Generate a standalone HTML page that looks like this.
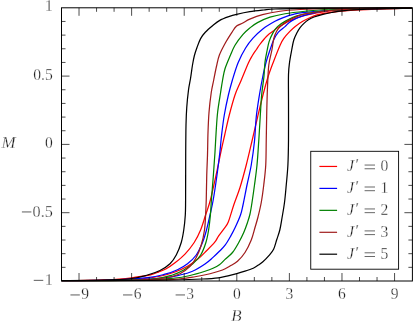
<!DOCTYPE html>
<html><head><meta charset="utf-8"><title>M vs B</title>
<style>
html,body{margin:0;padding:0;background:#fff;}
body{width:416px;height:323px;overflow:hidden;font-family:"Liberation Serif",serif;}
svg{display:block;}
.t{font-family:"Liberation Serif",serif;font-size:16px;fill:#1c1c1c;stroke:#fff;stroke-width:0.28px;paint-order:fill stroke;}
.i{font-style:italic;}
</style></head><body>
<svg width="416" height="323" viewBox="0 0 416 323">
<rect x="0" y="0" width="416" height="323" fill="#ffffff"/>
<defs><clipPath id="c"><rect x="61.50" y="7.30" width="350.90" height="274.20"/></clipPath></defs>
<g clip-path="url(#c)" fill="none" stroke-width="1.25" stroke-linejoin="round" stroke-linecap="butt">
<path d="M412.00 7.90 C403.33 8.08 373.88 8.44 360.00 9.00 C346.12 9.56 337.92 10.17 328.75 11.25 C319.58 12.33 311.46 13.94 305.00 15.50 C298.54 17.06 294.58 18.55 290.00 20.60 C285.42 22.65 280.21 26.10 277.50 27.80 C274.79 29.50 275.33 29.60 273.75 30.80 C272.17 32.00 269.56 33.67 268.00 35.00 C266.44 36.33 265.83 37.08 264.40 38.75 C262.97 40.42 260.73 43.21 259.40 45.00 C258.07 46.79 257.57 47.75 256.40 49.50 C255.23 51.25 253.72 53.28 252.40 55.50 C251.08 57.72 250.40 58.59 248.50 62.80 C246.60 67.01 243.25 75.38 241.00 80.75 C238.75 86.12 236.95 89.29 235.00 95.00 C233.05 100.71 231.02 108.33 229.30 115.00 C227.58 121.67 226.03 129.17 224.70 135.00 C223.37 140.83 222.73 143.33 221.30 150.00 C219.87 156.67 217.92 166.67 216.10 175.00 C214.28 183.33 212.15 193.33 210.40 200.00 C208.65 206.67 207.23 210.00 205.60 215.00 C203.97 220.00 202.50 225.42 200.60 230.00 C198.70 234.58 196.80 238.48 194.20 242.50 C191.60 246.52 188.20 250.72 185.00 254.10 C181.80 257.48 178.12 260.37 175.00 262.80 C171.88 265.23 169.02 267.15 166.25 268.70 C163.48 270.25 161.01 271.07 158.40 272.10 C155.79 273.13 153.20 274.22 150.60 274.90 C148.00 275.58 145.94 275.72 142.80 276.20 C139.66 276.68 135.68 277.33 131.75 277.80 C127.83 278.27 123.94 278.65 119.25 279.00 C114.56 279.35 108.47 279.67 103.60 279.90 C98.72 280.13 97.02 280.27 90.00 280.40 C82.98 280.53 66.25 280.65 61.50 280.70" stroke="#ff0000"/>
<path d="M61.50 280.70 C69.58 280.62 96.50 280.52 110.00 280.20 C123.50 279.88 134.17 279.41 142.50 278.75 C150.83 278.09 154.58 277.38 160.00 276.25 C165.42 275.12 170.42 273.67 175.00 272.00 C179.58 270.33 183.75 268.37 187.50 266.25 C191.25 264.13 194.37 261.84 197.50 259.30 C200.63 256.76 203.43 253.85 206.30 251.00 C209.18 248.15 212.72 244.68 214.75 242.20 C216.78 239.72 216.94 238.37 218.50 236.10 C220.06 233.83 222.47 230.95 224.10 228.60 C225.73 226.25 226.69 225.93 228.30 222.00 C229.91 218.07 231.80 210.75 233.75 205.00 C235.70 199.25 237.92 194.17 240.00 187.50 C242.08 180.83 244.25 172.75 246.25 165.00 C248.25 157.25 250.11 149.00 252.00 141.00 C253.89 133.00 255.75 124.75 257.60 117.00 C259.45 109.25 261.37 101.17 263.10 94.50 C264.83 87.83 266.32 82.33 268.00 77.00 C269.68 71.67 271.17 67.83 273.20 62.50 C275.23 57.17 278.40 49.07 280.20 45.00 C282.00 40.93 282.43 40.33 284.00 38.10 C285.57 35.87 287.73 33.55 289.60 31.60 C291.48 29.65 293.06 28.12 295.25 26.40 C297.44 24.67 300.25 22.73 302.75 21.25 C305.25 19.77 307.75 18.59 310.25 17.50 C312.75 16.41 315.64 15.35 317.75 14.70 C319.86 14.05 320.61 14.00 322.90 13.60 C325.19 13.20 328.33 12.70 331.50 12.30 C334.67 11.90 337.32 11.58 341.90 11.20 C346.48 10.82 353.15 10.33 359.00 10.00 C364.85 9.67 371.00 9.43 377.00 9.20 C383.00 8.97 389.17 8.80 395.00 8.60 C400.83 8.40 409.17 8.10 412.00 8.00" stroke="#ff0000"/>
<path d="M412.00 7.90 C403.33 8.04 373.88 8.32 360.00 8.75 C346.12 9.18 338.29 9.86 328.75 10.50 C319.21 11.14 308.64 11.95 302.75 12.60 C296.86 13.25 296.52 13.62 293.40 14.40 C290.27 15.18 287.07 16.15 284.00 17.30 C280.93 18.45 278.58 19.32 275.00 21.30 C271.42 23.28 266.17 26.38 262.50 29.20 C258.83 32.02 255.82 35.07 253.00 38.20 C250.18 41.33 248.07 43.95 245.60 48.00 C243.13 52.05 240.40 57.17 238.20 62.50 C236.00 67.83 234.03 74.58 232.40 80.00 C230.77 85.42 229.75 89.17 228.40 95.00 C227.05 100.83 225.43 108.33 224.30 115.00 C223.17 121.67 222.33 128.83 221.60 135.00 C220.87 141.17 220.67 145.33 219.90 152.00 C219.13 158.67 218.12 167.00 217.00 175.00 C215.88 183.00 214.37 193.33 213.20 200.00 C212.03 206.67 211.12 210.00 210.00 215.00 C208.88 220.00 207.75 225.42 206.50 230.00 C205.25 234.58 204.21 238.33 202.50 242.50 C200.79 246.67 198.75 251.46 196.25 255.00 C193.75 258.54 190.62 261.30 187.50 263.75 C184.38 266.20 181.25 267.96 177.50 269.70 C173.75 271.44 170.00 272.87 165.00 274.20 C160.00 275.53 156.67 276.70 147.50 277.70 C138.33 278.70 124.33 279.70 110.00 280.20 C95.67 280.70 69.58 280.62 61.50 280.70" stroke="#0000ff"/>
<path d="M61.50 280.70 C72.92 280.58 113.17 280.45 130.00 280.00 C146.83 279.55 154.17 278.83 162.50 278.00 C170.83 277.17 175.00 276.12 180.00 275.00 C185.00 273.88 188.33 273.08 192.50 271.25 C196.67 269.42 201.58 266.31 205.00 264.00 C208.42 261.69 210.60 259.52 213.00 257.40 C215.40 255.28 217.38 253.33 219.40 251.30 C221.42 249.27 223.22 247.73 225.10 245.20 C226.98 242.67 229.07 238.95 230.70 236.10 C232.33 233.25 233.27 231.62 234.90 228.10 C236.53 224.58 239.15 218.85 240.50 215.00 C241.85 211.15 241.92 210.00 243.00 205.00 C244.08 200.00 245.62 191.67 247.00 185.00 C248.38 178.33 250.00 172.33 251.25 165.00 C252.50 157.67 253.67 149.00 254.50 141.00 C255.33 133.00 255.42 124.75 256.25 117.00 C257.08 109.25 258.46 101.00 259.50 94.50 C260.54 88.00 261.42 83.33 262.50 78.00 C263.58 72.67 264.75 67.17 266.00 62.50 C267.25 57.83 268.71 53.80 270.00 50.00 C271.29 46.20 272.35 42.67 273.75 39.70 C275.15 36.73 276.52 34.38 278.40 32.20 C280.27 30.02 283.13 28.27 285.00 26.60 C286.87 24.93 287.73 23.57 289.60 22.20 C291.47 20.83 294.01 19.47 296.20 18.40 C298.39 17.33 300.10 16.65 302.75 15.80 C305.40 14.95 308.74 14.07 312.10 13.30 C315.46 12.53 318.25 11.83 322.90 11.20 C327.55 10.57 333.82 9.92 340.00 9.50 C346.18 9.08 348.00 8.95 360.00 8.70 C372.00 8.45 403.33 8.12 412.00 8.00" stroke="#0000ff"/>
<path d="M412.00 7.90 C403.33 8.00 373.88 8.28 360.00 8.50 C346.12 8.72 337.92 8.79 328.75 9.25 C319.58 9.71 312.29 10.50 305.00 11.25 C297.71 12.00 290.83 12.76 285.00 13.75 C279.17 14.74 274.58 15.72 270.00 17.20 C265.42 18.68 260.87 20.80 257.50 22.60 C254.13 24.40 252.25 26.00 249.80 28.00 C247.35 30.00 245.27 31.73 242.80 34.60 C240.33 37.47 237.08 41.72 235.00 45.20 C232.92 48.68 231.97 51.58 230.30 55.50 C228.63 59.42 226.28 64.67 225.00 68.75 C223.72 72.83 223.33 76.04 222.60 80.00 C221.87 83.96 221.43 87.08 220.60 92.50 C219.77 97.92 218.35 105.83 217.60 112.50 C216.85 119.17 216.53 125.92 216.10 132.50 C215.67 139.08 215.45 144.92 215.00 152.00 C214.55 159.08 214.00 167.00 213.40 175.00 C212.80 183.00 211.90 193.33 211.40 200.00 C210.90 206.67 210.87 210.00 210.40 215.00 C209.93 220.00 209.35 225.42 208.60 230.00 C207.85 234.58 207.22 238.33 205.90 242.50 C204.58 246.67 202.88 251.46 200.70 255.00 C198.52 258.54 195.62 261.25 192.80 263.75 C189.98 266.25 187.13 268.12 183.75 270.00 C180.37 271.88 177.29 273.54 172.50 275.00 C167.71 276.46 163.75 277.87 155.00 278.75 C146.25 279.63 135.58 279.98 120.00 280.30 C104.42 280.62 71.25 280.63 61.50 280.70" stroke="#008000"/>
<path d="M61.50 280.70 C74.58 280.62 121.08 280.65 140.00 280.20 C158.92 279.75 166.67 278.78 175.00 278.00 C183.33 277.22 185.00 276.62 190.00 275.50 C195.00 274.38 201.17 272.45 205.00 271.25 C208.83 270.05 210.60 269.38 213.00 268.30 C215.40 267.23 217.43 266.25 219.40 264.80 C221.37 263.35 222.62 261.65 224.80 259.60 C226.98 257.55 230.18 255.35 232.50 252.50 C234.82 249.65 236.88 245.83 238.75 242.50 C240.62 239.17 242.29 235.83 243.75 232.50 C245.21 229.17 246.46 225.58 247.50 222.50 C248.54 219.42 249.25 217.33 250.00 214.00 C250.75 210.67 251.25 207.33 252.00 202.50 C252.75 197.67 253.67 191.25 254.50 185.00 C255.33 178.75 256.29 172.33 257.00 165.00 C257.71 157.67 258.22 149.00 258.75 141.00 C259.28 133.00 259.71 124.75 260.20 117.00 C260.69 109.25 261.08 101.17 261.70 94.50 C262.32 87.83 263.35 82.42 263.90 77.00 C264.45 71.58 264.45 66.50 265.00 62.00 C265.55 57.50 266.52 53.40 267.20 50.00 C267.88 46.60 268.17 44.42 269.10 41.60 C270.03 38.78 271.40 35.60 272.80 33.10 C274.20 30.60 275.32 28.63 277.50 26.60 C279.68 24.57 282.57 22.72 285.90 20.90 C289.23 19.08 293.07 17.10 297.50 15.70 C301.93 14.30 307.29 13.37 312.50 12.50 C317.71 11.63 320.83 11.12 328.75 10.50 C336.67 9.88 346.12 9.22 360.00 8.80 C373.88 8.38 403.33 8.13 412.00 8.00" stroke="#008000"/>
<path d="M412.00 7.90 C403.33 7.92 373.88 7.93 360.00 8.00 C346.12 8.07 338.75 8.05 328.75 8.30 C318.75 8.55 308.12 9.01 300.00 9.50 C291.88 9.99 286.25 10.38 280.00 11.25 C273.75 12.12 267.53 13.38 262.50 14.70 C257.47 16.02 253.08 17.82 249.80 19.20 C246.52 20.58 245.00 21.85 242.80 23.00 C240.60 24.15 238.42 24.55 236.60 26.10 C234.78 27.65 233.73 29.57 231.90 32.30 C230.07 35.03 227.68 38.72 225.60 42.50 C223.52 46.28 220.92 51.04 219.40 55.00 C217.88 58.96 217.45 62.08 216.50 66.25 C215.55 70.42 214.57 75.62 213.70 80.00 C212.82 84.38 212.03 87.08 211.25 92.50 C210.47 97.92 209.54 105.83 209.00 112.50 C208.46 119.17 208.25 125.42 208.00 132.50 C207.75 139.58 207.71 147.92 207.50 155.00 C207.29 162.08 206.96 167.50 206.75 175.00 C206.54 182.50 206.44 193.33 206.25 200.00 C206.06 206.67 205.89 210.00 205.60 215.00 C205.31 220.00 205.22 225.00 204.50 230.00 C203.78 235.00 202.62 240.42 201.25 245.00 C199.88 249.58 198.12 253.96 196.25 257.50 C194.38 261.04 192.71 263.54 190.00 266.25 C187.29 268.96 183.75 271.88 180.00 273.75 C176.25 275.62 172.50 276.54 167.50 277.50 C162.50 278.46 157.92 279.02 150.00 279.50 C142.08 279.98 134.75 280.20 120.00 280.40 C105.25 280.60 71.25 280.65 61.50 280.70" stroke="#a01c1c"/>
<path d="M61.50 280.70 C76.25 280.63 130.25 280.62 150.00 280.30 C169.75 279.98 172.50 279.34 180.00 278.75 C187.50 278.16 190.00 277.58 195.00 276.75 C200.00 275.92 205.42 274.88 210.00 273.75 C214.58 272.62 219.17 271.29 222.50 270.00 C225.83 268.71 227.50 267.46 230.00 266.00 C232.50 264.54 235.00 263.50 237.50 261.25 C240.00 259.00 242.71 256.04 245.00 252.50 C247.29 248.96 249.58 244.17 251.25 240.00 C252.92 235.83 253.88 231.33 255.00 227.50 C256.12 223.67 256.96 221.17 258.00 217.00 C259.04 212.83 260.29 207.83 261.25 202.50 C262.21 197.17 263.00 191.25 263.75 185.00 C264.50 178.75 265.33 172.50 265.75 165.00 C266.17 157.50 266.08 148.83 266.25 140.00 C266.42 131.17 266.54 120.83 266.75 112.00 C266.96 103.17 267.16 94.83 267.50 87.00 C267.84 79.17 268.07 71.17 268.80 65.00 C269.53 58.83 271.07 54.38 271.90 50.00 C272.72 45.62 272.97 41.88 273.75 38.75 C274.53 35.62 275.51 33.27 276.60 31.25 C277.69 29.23 278.43 28.33 280.30 26.60 C282.17 24.88 285.18 22.53 287.80 20.90 C290.42 19.27 293.13 17.97 296.00 16.80 C298.87 15.63 299.54 14.95 305.00 13.90 C310.46 12.85 319.58 11.35 328.75 10.50 C337.92 9.65 346.12 9.22 360.00 8.80 C373.88 8.38 403.33 8.13 412.00 8.00" stroke="#a01c1c"/>
<path d="M412.00 7.90 C403.33 7.92 373.88 7.97 360.00 8.00 C346.12 8.03 338.75 8.05 328.75 8.10 C318.75 8.15 308.96 8.15 300.00 8.30 C291.04 8.45 281.04 8.72 275.00 9.00 C268.96 9.28 267.95 9.55 263.75 10.00 C259.55 10.45 254.33 10.97 249.80 11.70 C245.28 12.43 240.11 13.57 236.60 14.40 C233.09 15.23 231.62 15.67 228.75 16.70 C225.88 17.73 222.01 19.17 219.40 20.60 C216.79 22.03 215.45 23.35 213.10 25.30 C210.75 27.25 207.38 30.08 205.30 32.30 C203.22 34.52 201.98 36.07 200.60 38.60 C199.22 41.13 198.03 44.68 197.00 47.50 C195.97 50.32 195.15 52.58 194.40 55.50 C193.65 58.42 193.13 61.25 192.50 65.00 C191.87 68.75 191.27 73.83 190.60 78.00 C189.93 82.17 189.14 85.08 188.50 90.00 C187.86 94.92 187.17 101.67 186.75 107.50 C186.33 113.33 186.18 117.08 186.00 125.00 C185.82 132.92 185.77 142.50 185.70 155.00 C185.63 167.50 185.67 190.00 185.60 200.00 C185.53 210.00 185.61 210.00 185.30 215.00 C184.99 220.00 184.43 225.42 183.75 230.00 C183.07 234.58 182.50 238.33 181.25 242.50 C180.00 246.67 178.12 251.46 176.25 255.00 C174.38 258.54 172.71 261.17 170.00 263.75 C167.29 266.33 163.75 268.62 160.00 270.50 C156.25 272.38 152.50 273.62 147.50 275.00 C142.50 276.38 137.92 277.88 130.00 278.75 C122.08 279.62 111.42 279.89 100.00 280.20 C88.58 280.51 67.92 280.53 61.50 280.60" stroke="#000000"/>
<path d="M61.50 280.70 C76.25 280.65 126.50 280.68 150.00 280.40 C173.50 280.12 190.83 279.47 202.50 279.00 C214.17 278.53 215.58 278.17 220.00 277.60 C224.42 277.03 226.20 276.27 229.00 275.60 C231.80 274.93 234.13 274.33 236.80 273.60 C239.47 272.87 242.26 272.10 245.00 271.20 C247.74 270.30 251.08 269.18 253.25 268.20 C255.42 267.22 256.44 266.33 258.00 265.30 C259.56 264.27 260.78 263.62 262.60 262.00 C264.42 260.38 267.07 257.73 268.90 255.60 C270.73 253.47 272.30 251.83 273.60 249.20 C274.90 246.57 275.67 243.00 276.70 239.80 C277.73 236.60 278.92 233.63 279.80 230.00 C280.68 226.37 281.22 222.58 282.00 218.00 C282.78 213.42 283.79 208.00 284.50 202.50 C285.21 197.00 285.68 191.25 286.25 185.00 C286.82 178.75 287.52 172.50 287.90 165.00 C288.27 157.50 288.40 150.83 288.50 140.00 C288.60 129.17 288.50 110.92 288.50 100.00 C288.50 89.08 288.32 80.83 288.50 74.50 C288.68 68.17 289.07 66.08 289.60 62.00 C290.13 57.92 291.00 53.67 291.70 50.00 C292.40 46.33 292.90 42.92 293.80 40.00 C294.70 37.08 296.08 34.53 297.10 32.50 C298.12 30.47 298.80 29.28 299.90 27.80 C301.00 26.32 302.28 24.93 303.70 23.60 C305.12 22.27 306.68 20.90 308.40 19.80 C310.12 18.70 311.58 17.90 314.00 17.00 C316.42 16.10 319.97 15.15 322.90 14.40 C325.83 13.65 328.43 13.10 331.60 12.50 C334.77 11.90 337.33 11.28 341.90 10.80 C346.47 10.32 353.15 9.92 359.00 9.60 C364.85 9.28 368.17 9.15 377.00 8.90 C385.83 8.65 406.17 8.23 412.00 8.10" stroke="#000000"/>
</g>
<g stroke="#000" stroke-width="0.70">
<path d="M79.03 7.80v8.00 M79.03 281.00v-8.00"/>
<path d="M96.56 7.80v4.00 M96.56 281.00v-4.00"/>
<path d="M114.09 7.80v4.00 M114.09 281.00v-4.00"/>
<path d="M131.62 7.80v8.00 M131.62 281.00v-8.00"/>
<path d="M149.15 7.80v4.00 M149.15 281.00v-4.00"/>
<path d="M166.68 7.80v4.00 M166.68 281.00v-4.00"/>
<path d="M184.21 7.80v8.00 M184.21 281.00v-8.00"/>
<path d="M201.74 7.80v4.00 M201.74 281.00v-4.00"/>
<path d="M219.27 7.80v4.00 M219.27 281.00v-4.00"/>
<path d="M236.80 7.80v8.00 M236.80 281.00v-8.00"/>
<path d="M254.33 7.80v4.00 M254.33 281.00v-4.00"/>
<path d="M271.86 7.80v4.00 M271.86 281.00v-4.00"/>
<path d="M289.39 7.80v8.00 M289.39 281.00v-8.00"/>
<path d="M306.92 7.80v4.00 M306.92 281.00v-4.00"/>
<path d="M324.45 7.80v4.00 M324.45 281.00v-4.00"/>
<path d="M341.98 7.80v8.00 M341.98 281.00v-8.00"/>
<path d="M359.51 7.80v4.00 M359.51 281.00v-4.00"/>
<path d="M377.04 7.80v4.00 M377.04 281.00v-4.00"/>
<path d="M394.57 7.80v8.00 M394.57 281.00v-8.00"/>
<path d="M61.50 267.34h4.00 M412.40 267.34h-4.00"/>
<path d="M61.50 253.68h4.00 M412.40 253.68h-4.00"/>
<path d="M61.50 240.02h4.00 M412.40 240.02h-4.00"/>
<path d="M61.50 226.36h4.00 M412.40 226.36h-4.00"/>
<path d="M61.50 212.70h8.00 M412.40 212.70h-8.00"/>
<path d="M61.50 199.04h4.00 M412.40 199.04h-4.00"/>
<path d="M61.50 185.38h4.00 M412.40 185.38h-4.00"/>
<path d="M61.50 171.72h4.00 M412.40 171.72h-4.00"/>
<path d="M61.50 158.06h4.00 M412.40 158.06h-4.00"/>
<path d="M61.50 144.40h8.00 M412.40 144.40h-8.00"/>
<path d="M61.50 130.74h4.00 M412.40 130.74h-4.00"/>
<path d="M61.50 117.08h4.00 M412.40 117.08h-4.00"/>
<path d="M61.50 103.42h4.00 M412.40 103.42h-4.00"/>
<path d="M61.50 89.76h4.00 M412.40 89.76h-4.00"/>
<path d="M61.50 76.10h8.00 M412.40 76.10h-8.00"/>
<path d="M61.50 62.44h4.00 M412.40 62.44h-4.00"/>
<path d="M61.50 48.78h4.00 M412.40 48.78h-4.00"/>
<path d="M61.50 35.12h4.00 M412.40 35.12h-4.00"/>
<path d="M61.50 21.46h4.00 M412.40 21.46h-4.00"/>
</g>
<rect x="61.50" y="7.80" width="350.90" height="273.20" fill="none" stroke="#000" stroke-width="1.0"/>
<rect x="310.75" y="151.3" width="87.85" height="117.9" fill="#fff" stroke="#000" stroke-width="0.9"/>
<path d="M319.4 166.45H337.1" stroke="#ff0000" stroke-width="1.2" fill="none"/>
<path d="M319.4 188.40H337.1" stroke="#0000ff" stroke-width="1.2" fill="none"/>
<path d="M319.4 210.35H337.1" stroke="#008000" stroke-width="1.2" fill="none"/>
<path d="M319.4 232.30H337.1" stroke="#a01c1c" stroke-width="1.2" fill="none"/>
<path d="M319.4 254.20H337.1" stroke="#000000" stroke-width="1.2" fill="none"/>
<g opacity="0.99">
<text x="346.9" y="171.05" class="t i">J</text>
<text x="355.6" y="169.85" class="t">′</text>
<path d="M364.60 165.05h10.40" stroke="#262626" stroke-width="0.70" fill="none"/>
<path d="M364.60 168.75h10.40" stroke="#262626" stroke-width="0.70" fill="none"/>
<text transform="translate(380.60 171.05) scale(0.975 1.100)" class="t" text-anchor="start">0</text>
<text x="346.9" y="193.00" class="t i">J</text>
<text x="355.6" y="191.80" class="t">′</text>
<path d="M364.60 187.00h10.40" stroke="#262626" stroke-width="0.70" fill="none"/>
<path d="M364.60 190.70h10.40" stroke="#262626" stroke-width="0.70" fill="none"/>
<text transform="translate(380.60 193.00) scale(0.975 1.100)" class="t" text-anchor="start">1</text>
<text x="346.9" y="214.95" class="t i">J</text>
<text x="355.6" y="213.75" class="t">′</text>
<path d="M364.60 208.95h10.40" stroke="#262626" stroke-width="0.70" fill="none"/>
<path d="M364.60 212.65h10.40" stroke="#262626" stroke-width="0.70" fill="none"/>
<text transform="translate(380.60 214.95) scale(0.975 1.100)" class="t" text-anchor="start">2</text>
<text x="346.9" y="236.90" class="t i">J</text>
<text x="355.6" y="235.70" class="t">′</text>
<path d="M364.60 230.90h10.40" stroke="#262626" stroke-width="0.70" fill="none"/>
<path d="M364.60 234.60h10.40" stroke="#262626" stroke-width="0.70" fill="none"/>
<text transform="translate(380.60 236.90) scale(0.975 1.100)" class="t" text-anchor="start">3</text>
<text x="346.9" y="258.80" class="t i">J</text>
<text x="355.6" y="257.60" class="t">′</text>
<path d="M364.60 252.80h10.40" stroke="#262626" stroke-width="0.70" fill="none"/>
<path d="M364.60 256.50h10.40" stroke="#262626" stroke-width="0.70" fill="none"/>
<text transform="translate(380.60 258.80) scale(0.975 1.100)" class="t" text-anchor="start">5</text>
<text transform="translate(52.80 11.40) scale(0.975 1.100)" class="t" text-anchor="end">1</text>
<text transform="translate(52.80 79.70) scale(0.975 1.100)" class="t" text-anchor="end">0.5</text>
<text transform="translate(52.80 148.00) scale(0.975 1.100)" class="t" text-anchor="end">0</text>
<text transform="translate(52.80 216.70) scale(1.010 1.100)" class="t" text-anchor="end">0.5</text>
<path d="M21.90 211.95h9.50" stroke="#262626" stroke-width="0.75" fill="none"/>
<text transform="translate(52.80 284.60) scale(0.975 1.100)" class="t" text-anchor="end">1</text>
<path d="M33.75 280.35h9.50" stroke="#262626" stroke-width="0.75" fill="none"/>
<text transform="translate(85.03 299.40) scale(0.975 1.100)" class="t" text-anchor="middle">9</text>
<path d="M70.43 294.95h9.40" stroke="#262626" stroke-width="0.75" fill="none"/>
<text transform="translate(137.62 299.40) scale(0.975 1.100)" class="t" text-anchor="middle">6</text>
<path d="M123.02 294.95h9.40" stroke="#262626" stroke-width="0.75" fill="none"/>
<text transform="translate(190.21 299.40) scale(0.975 1.100)" class="t" text-anchor="middle">3</text>
<path d="M175.61 294.95h9.40" stroke="#262626" stroke-width="0.75" fill="none"/>
<text transform="translate(236.80 299.40) scale(0.975 1.100)" class="t" text-anchor="middle">0</text>
<text transform="translate(289.39 299.40) scale(0.975 1.100)" class="t" text-anchor="middle">3</text>
<text transform="translate(341.98 299.40) scale(0.975 1.100)" class="t" text-anchor="middle">6</text>
<text transform="translate(394.57 299.40) scale(0.975 1.100)" class="t" text-anchor="middle">9</text>
<text transform="translate(1.5 147.9) scale(1.06 1.03)" class="t i">M</text>
<text transform="translate(231.2 321) scale(1.06 1)" class="t i">B</text>
</g>
</svg>
</body></html>
